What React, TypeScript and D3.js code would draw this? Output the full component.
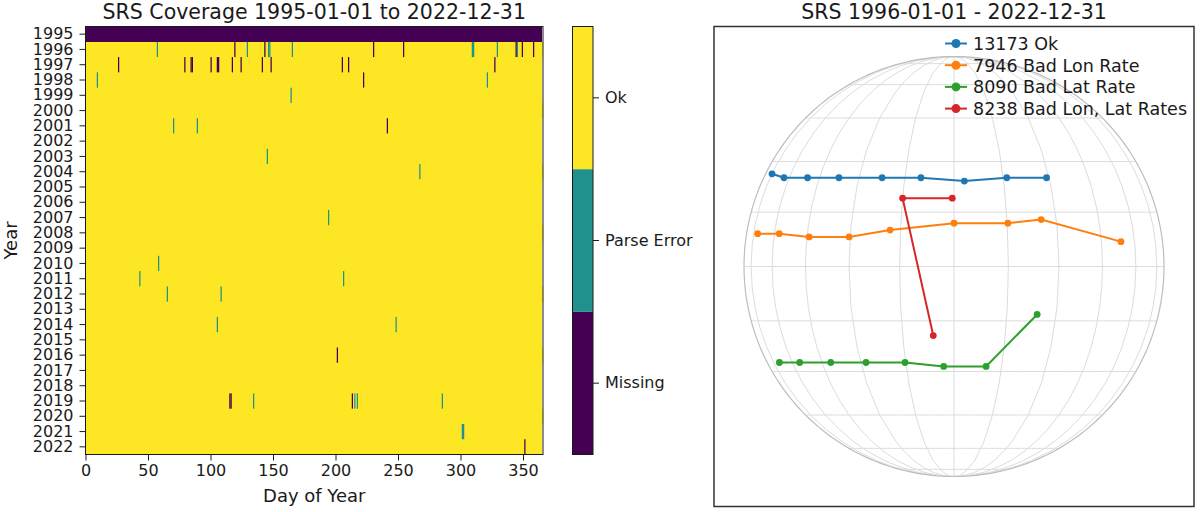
import React, { useEffect, useRef } from 'react';
import * as d3 from 'd3';

const years = [
  1995, 1996, 1997, 1998, 1999, 2000, 2001, 2002, 2003, 2004, 2005, 2006, 2007, 2008,
  2009, 2010, 2011, 2012, 2013, 2014, 2015, 2016, 2017, 2018, 2019, 2020, 2021, 2022,
];
const leapYears = [1996, 2000, 2004, 2008, 2012, 2016, 2020];
const fullyMissingYears = [1995];

// [year, day of year] of the days without a usable SRS file
const missingDays: [number, number][] = [
  [1996, 119], [1996, 143], [1996, 230], [1996, 254], [1996, 344], [1996, 349], [1996, 358],
  [1997, 26], [1997, 79], [1997, 84], [1997, 85], [1997, 100], [1997, 105], [1997, 106],
  [1997, 117], [1997, 124], [1997, 141], [1997, 148], [1997, 205], [1997, 210], [1997, 327],
  [1998, 222], [2001, 241], [2016, 201], [2019, 115], [2019, 116], [2019, 213], [2022, 351],
];
const parseErrorDays: [number, number][] = [
  [1996, 57], [1996, 129], [1996, 146], [1996, 147], [1996, 165], [1996, 309], [1996, 310],
  [1996, 329], [1996, 345], [1998, 9], [1998, 321], [1999, 164], [2001, 70], [2001, 89],
  [2003, 145], [2004, 267], [2007, 194], [2010, 58], [2011, 43], [2011, 206], [2012, 65],
  [2012, 108], [2014, 105], [2014, 248], [2019, 134], [2019, 215], [2019, 217], [2019, 285],
  [2021, 301], [2021, 302],
];

const statusLabels = ['Missing', 'Parse Error', 'Ok'];
const statusColors = ['#440154', '#21918c', '#fde725'];
const dayTicks = [0, 50, 100, 150, 200, 250, 300, 350];

// region tracks as [lon, lat] in heliographic degrees
const regionLabels = ['13173 Ok', '7946 Bad Lon Rate', '8090 Bad Lat Rate', '8238 Bad Lon, Lat Rates'];
const regionColors = ['#1f77b4', '#ff7f0e', '#2ca02c', '#d62728'];
const track13173: [number, number][] = [
  [-75, 26.2], [-63.3, 25], [-50.3, 25], [-37.2, 25], [-22.2, 25], [-10, 25], [3.1, 24], [16.1, 25], [29.1, 25],
];
const track7946: [number, number][] = [
  [-71.2, 9], [-57.4, 9], [-44.2, 8.1], [-30.3, 8.1], [-18, 10], [0, 11.9], [15.2, 11.9], [25.2, 12.9], [53.2, 6.8],
];
const track8090: [number, number][] = [
  [-69.2, -27.2], [-55.7, -27.2], [-41.3, -27.2], [-28.1, -27.2], [-15.2, -27.2], [-3.2, -28.4], [10, -28.4], [24, -13.2],
];
const track8238: [number, number][] = [[-0.5, 19], [-15, 19], [-6, -19.2]];
const regionTracks = [track13173, track7946, track8090, track8238];

const FONT = 'DejaVu Sans, sans-serif';
const INK = '#1a1a1a';

const App: React.FC = () => {
  const svgRef = useRef<SVGSVGElement>(null);

  useEffect(() => {
    if (!svgRef.current) return;
    const svg = d3.select(svgRef.current);
    svg.selectAll('*').remove();

    // ---------- coverage heatmap ----------
    const hm = { left: 85.5, right: 543, top: 26.5, bottom: 454.5 };
    const x = d3.scaleLinear().domain([0, 366]).range([hm.left, hm.right]);
    const y = d3.scaleBand<string>().domain(years.map(String)).range([hm.top, hm.bottom]);

    const heat = svg.append('g');
    years.forEach(yr => {
      const nDays = leapYears.includes(yr) ? 366 : 365;
      const status = fullyMissingYears.includes(yr) ? 0 : 2;
      heat.append('rect')
        .attr('x', x(0))
        .attr('y', y(String(yr))!)
        .attr('width', x(nDays) - x(0))
        .attr('height', y.bandwidth())
        .attr('fill', statusColors[status])
        .attr('shape-rendering', 'crispEdges');
    });

    const drawDays = (days: [number, number][], color: string) => {
      heat.selectAll(null)
        .data(days)
        .enter()
        .append('rect')
        .attr('x', d => x(d[1]))
        .attr('y', d => y(String(d[0]))!)
        .attr('width', x(1) - x(0))
        .attr('height', y.bandwidth())
        .attr('fill', color);
    };
    drawDays(parseErrorDays, statusColors[1]);
    drawDays(missingDays, statusColors[0]);

    const styleAxis = (g: d3.Selection<SVGGElement, unknown, null, undefined>) => {
      g.select('.domain').remove();
      g.selectAll('line').attr('stroke', INK).attr('stroke-width', 1);
      g.selectAll('text').attr('fill', INK).attr('font-family', FONT).attr('font-size', 16);
    };

    svg.append('g')
      .attr('transform', `translate(${hm.left},0)`)
      .call(d3.axisLeft(y).tickSize(6).tickPadding(6))
      .call(styleAxis);

    svg.append('g')
      .attr('transform', `translate(0,${hm.bottom})`)
      .call(d3.axisBottom(x).tickValues(dayTicks).tickSize(6).tickPadding(4))
      .call(styleAxis);

    svg.append('rect')
      .attr('x', hm.left).attr('y', hm.top)
      .attr('width', hm.right - hm.left).attr('height', hm.bottom - hm.top)
      .attr('fill', 'none').attr('stroke', INK).attr('stroke-width', 1);

    svg.append('text')
      .attr('x', (hm.left + hm.right) / 2).attr('y', 19)
      .attr('text-anchor', 'middle')
      .attr('font-family', FONT).attr('font-size', 20.5).attr('fill', INK)
      .text('SRS Coverage 1995-01-01 to 2022-12-31');

    svg.append('text')
      .attr('x', (hm.left + hm.right) / 2).attr('y', 502)
      .attr('text-anchor', 'middle')
      .attr('font-family', FONT).attr('font-size', 18).attr('fill', INK)
      .text('Day of Year');

    svg.append('text')
      .attr('transform', `translate(17,${(hm.top + hm.bottom) / 2}) rotate(-90)`)
      .attr('text-anchor', 'middle')
      .attr('font-family', FONT).attr('font-size', 18).attr('fill', INK)
      .text('Year');

    // ---------- colour bar ----------
    const cb = { left: 572.5, right: 593, top: hm.top, bottom: hm.bottom };
    const cy = d3.scaleBand<string>().domain([...statusLabels].reverse()).range([cb.top, cb.bottom]);
    statusLabels.forEach((s, i) => {
      svg.append('rect')
        .attr('x', cb.left).attr('y', cy(s)!)
        .attr('width', cb.right - cb.left).attr('height', cy.bandwidth())
        .attr('fill', statusColors[i]);
    });
    svg.append('rect')
      .attr('x', cb.left).attr('y', cb.top)
      .attr('width', cb.right - cb.left).attr('height', cb.bottom - cb.top)
      .attr('fill', 'none').attr('stroke', INK).attr('stroke-width', 1);
    svg.append('g')
      .attr('transform', `translate(${cb.right},0)`)
      .call(d3.axisRight(cy).tickSize(6).tickPadding(6))
      .call(styleAxis);

    // ---------- solar disk ----------
    const ax = { left: 714, right: 1194, top: 26.5, bottom: 506.5 };
    const cx0 = (ax.left + ax.right) / 2;
    const cy0 = (ax.top + ax.bottom) / 2;
    const projection = d3.geoOrthographic()
      .scale(210)
      .translate([cx0, cy0])
      .rotate([0, 0])
      .clipAngle(90);
    const geoPath = d3.geoPath(projection);

    const graticule = d3.geoGraticule().step([15, 15]).extent([[-180, -90], [180, 90.01]]);
    svg.append('path')
      .datum(graticule())
      .attr('d', geoPath)
      .attr('fill', 'none')
      .attr('stroke', '#dcdcdc')
      .attr('stroke-width', 1);
    svg.append('path')
      .datum({ type: 'Sphere' } as d3.GeoSphere)
      .attr('d', geoPath)
      .attr('fill', 'none')
      .attr('stroke', '#bdbdbd')
      .attr('stroke-width', 1.2);

    const line = d3.line<[number, number]>();
    regionTracks.forEach((track, i) => {
      const pts = track.map(p => projection(p) as [number, number]);
      const g = svg.append('g');
      g.append('path')
        .attr('d', line(pts))
        .attr('fill', 'none')
        .attr('stroke', regionColors[i])
        .attr('stroke-width', 2);
      g.selectAll('circle')
        .data(pts)
        .enter()
        .append('circle')
        .attr('cx', d => d[0])
        .attr('cy', d => d[1])
        .attr('r', 3.4)
        .attr('fill', regionColors[i]);
    });

    // legend
    const legend = svg.append('g').attr('transform', `translate(945,43.5)`);
    regionLabels.forEach((label, i) => {
      const row = legend.append('g').attr('transform', `translate(0,${i * 21.7})`);
      row.append('line')
        .attr('x1', 0).attr('x2', 22)
        .attr('stroke', regionColors[i]).attr('stroke-width', 2);
      row.append('circle')
        .attr('cx', 11).attr('r', 4.5)
        .attr('fill', regionColors[i]);
      row.append('text')
        .attr('x', 28).attr('y', 6.3)
        .attr('font-family', FONT).attr('font-size', 17.5).attr('fill', INK)
        .text(label);
    });

    svg.append('rect')
      .attr('x', ax.left).attr('y', ax.top)
      .attr('width', ax.right - ax.left).attr('height', ax.bottom - ax.top)
      .attr('fill', 'none').attr('stroke', '#333').attr('stroke-width', 1.5);

    svg.append('text')
      .attr('x', cx0).attr('y', 19)
      .attr('text-anchor', 'middle')
      .attr('font-family', FONT).attr('font-size', 20.5).attr('fill', INK)
      .text('SRS 1996-01-01 - 2022-12-31');
  }, []);

  return (
    <svg
      ref={svgRef}
      width={1200}
      height={512}
      style={{ position: 'absolute', left: 0, top: 0, background: '#fff' }}
    />
  );
};

export default App;
